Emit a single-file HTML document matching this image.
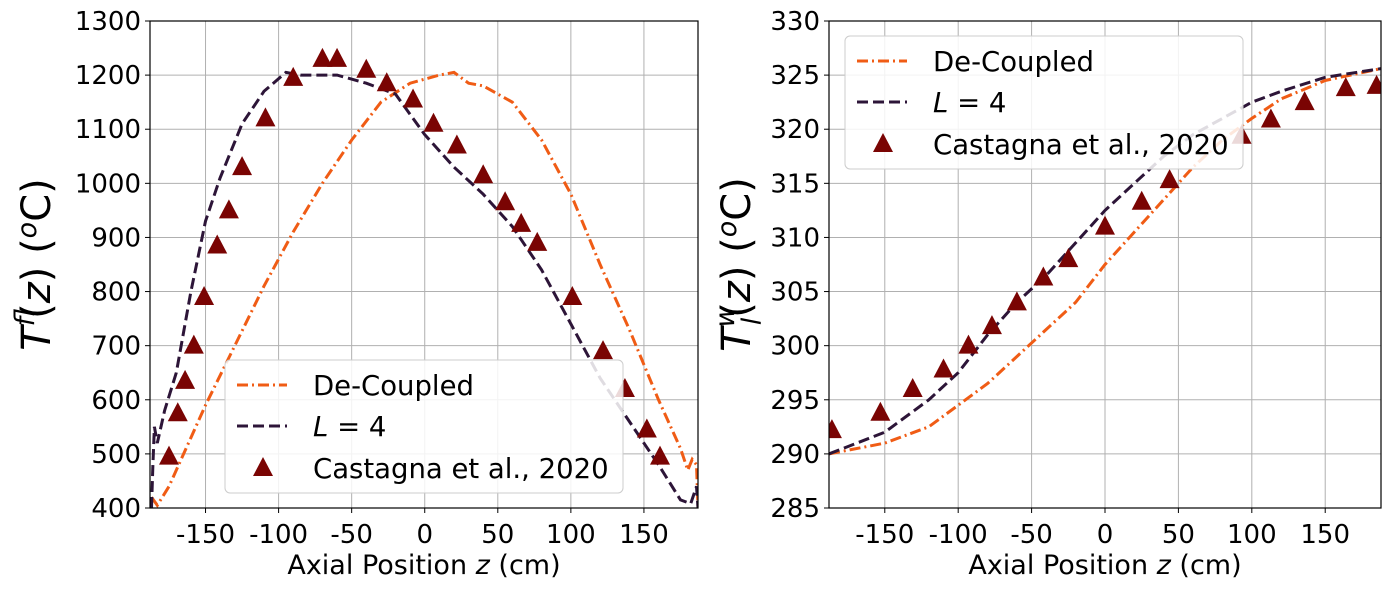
<!DOCTYPE html>
<html><head><meta charset="utf-8"><style>
body{margin:0;background:#fff}
svg{font-family:"DejaVu Sans","Liberation Sans",sans-serif}
</style></head><body>
<svg id="fig" width="1389" height="590" xmlns="http://www.w3.org/2000/svg"></svg>
<script>
// ---- Left panel data ----
const leftTriZ=[-175,-169,-164,-158,-151,-142,-134,-125,-109,-90,-70,-60,-40,-26,-8,6,22,40,55,66,77,101,122,137,152,161];
const leftTriT=[495,575,635,700,790,885,950,1030,1120,1195,1230,1230,1210,1185,1155,1110,1070,1015,965,925,890,790,690,620,545,495];
const leftLZ=[-187,-186,-185,-183,-178,-170,-160,-150,-140,-125,-110,-95,-85,-60,-40,-20,0,20,40,60,80,100,120,140,160,175,182,186,187];
const leftLT=[400,480,550,520,580,650,800,930,1010,1110,1170,1205,1200,1200,1185,1165,1090,1030,980,920,840,740,640,560,480,415,408,440,400];
const leftDZ=[-187,-183,-175,-160,-150,-130,-110,-90,-70,-50,-30,-10,10,20,30,40,60,80,100,120,140,160,175,180,183,186,187];
const leftDT=[420,405,440,530,590,700,810,910,1000,1080,1150,1185,1200,1205,1185,1180,1150,1080,980,850,730,600,510,470,490,480,400];
// ---- Right panel data ----
const rightTriZ=[-186,-153,-131,-110,-93,-77,-60,-42,-25,0,25,44,93,113,136,164,185];
const rightTriT=[292.2,293.8,296,297.8,300,301.8,304,306.3,308,311,313.3,315.3,319.4,320.9,322.5,323.8,324];
const rightLZ=[-188,-150,-120,-100,-80,-60,-40,-20,0,20,40,60,80,100,120,150,188];
const rightLT=[290,292,295,297.5,301,304,306.5,309.5,312.5,315,317.5,319.5,321,322.5,323.5,324.8,325.6];
const rightDZ=[-188,-150,-120,-100,-80,-60,-40,-20,0,20,40,60,80,100,120,150,188];
const rightDT=[290,291,292.5,294.5,296.5,299,301.5,304,307.5,310.5,313.5,316.5,319,321,322.8,324.5,325.6];
const xTicks=[-150,-100,-50,0,50,100,150];
const leftYTicks=[400,500,600,700,800,900,1000,1100,1200,1300];
const rightYTicks=[285,290,295,300,305,310,315,320,325,330];

const NS="http://www.w3.org/2000/svg";
const svg=document.getElementById('fig');
function mk(tag,attrs,parent){const e=document.createElementNS(NS,tag);for(const k in attrs)e.setAttribute(k,attrs[k]);(parent||svg).appendChild(e);return e;}
const ORANGE="#f05c15",DARK="#2d1538",RED="#7a0403";

function panel(p){
  const g=mk('g',{});
  
  
  const sx=z=>p.x0+(z-p.zmin)/(p.zmax-p.zmin)*(p.x1-p.x0);
  const sy=v=>p.y1-(v-p.ymin)/(p.ymax-p.ymin)*(p.y1-p.y0);
  const clip=mk('clipPath',{id:p.name+'-clip'},g);
  mk('rect',{x:p.x0,y:p.y0,width:p.x1-p.x0,height:p.y1-p.y0},clip);
  xTicks.forEach(t=>{
    const l=mk('line',{x1:sx(t),x2:sx(t),y1:p.y0,y2:p.y1,stroke:'#b0b0b0','stroke-width':1},g);
    
    
    mk('line',{x1:sx(t),x2:sx(t),y1:p.y1,y2:p.y1+5,stroke:'#000','stroke-width':1},g);
    const tx=mk('text',{x:sx(t),y:p.y1+35,'font-size':26,'text-anchor':'middle'},g);
    tx.textContent=t;
    
    
  });
  p.yTicks.forEach(t=>{
    const l=mk('line',{x1:p.x0,x2:p.x1,y1:sy(t),y2:sy(t),stroke:'#b0b0b0','stroke-width':1},g);
    
    
    mk('line',{x1:p.x0-5,x2:p.x0,y1:sy(t),y2:sy(t),stroke:'#000','stroke-width':1},g);
    const tx=mk('text',{x:p.x0-9,y:sy(t)+9,'font-size':26,'text-anchor':'end'},g);
    tx.textContent=t;
    
    
  });
  const pts=(Z,T)=>Z.map((z,i)=>sx(z).toFixed(1)+','+sy(T[i]).toFixed(1)).join(' ');
  const d=mk('polyline',{points:pts(p.dz,p.dt),fill:'none',stroke:ORANGE,'stroke-width':3,'stroke-dasharray':'11,4,2,4','clip-path':'url(#'+p.name+'-clip)'},g);
  
  
  const l4=mk('polyline',{points:pts(p.lz,p.lt),fill:'none',stroke:DARK,'stroke-width':3,'stroke-dasharray':'11,5','clip-path':'url(#'+p.name+'-clip)'},g);
  
  
  p.tz.forEach((z,i)=>{
    const cx=sx(z),cy=sy(p.tt[i]);
    const tr=mk('polygon',{points:`${cx},${cy-11} ${cx-10},${cy+8} ${cx+10},${cy+8}`,fill:RED,'clip-path':'url(#'+p.name+'-clip)'},g);
    
    
  });
  mk('rect',{x:p.x0,y:p.y0,width:p.x1-p.x0,height:p.y1-p.y0,fill:'none',stroke:'#000','stroke-width':1.2},g);
  // legend
  const L=p.leg;
  const lg=mk('g',{},g);
  
  
  mk('rect',{x:L.x,y:L.y,width:398,height:133,rx:5,fill:'#fff','fill-opacity':0.85,stroke:'#ccc'},lg);
  mk('line',{x1:L.x+12,x2:L.x+62,y1:L.y+25,y2:L.y+25,stroke:ORANGE,'stroke-width':3,'stroke-dasharray':'11,4,2,4'},lg);
  mk('line',{x1:L.x+12,x2:L.x+62,y1:L.y+66,y2:L.y+66,stroke:DARK,'stroke-width':3,'stroke-dasharray':'11,5'},lg);
  const cx=L.x+38,cy=L.y+108;
  mk('polygon',{points:`${cx},${cy-11} ${cx-10},${cy+8} ${cx+10},${cy+8}`,fill:RED},lg);
  const t1=mk('text',{x:L.x+88,y:L.y+35,'font-size':27.5},lg);t1.textContent='De-Coupled';
  
  const t2=mk('text',{x:L.x+88,y:L.y+76,'font-size':27.5},lg);t2.innerHTML='<tspan font-style="italic">L</tspan> = 4';
  
  const t3=mk('text',{x:L.x+88,y:L.y+118,'font-size':27.5},lg);t3.textContent='Castagna et al., 2020';
  
  const xl=mk('text',{x:(p.x0+p.x1)/2,y:574,'font-size':27,'text-anchor':'middle'},g);
  xl.innerHTML='Axial Position <tspan font-style="italic">z</tspan> (cm)';
  
  const yl=mk('text',{x:0,y:0,'font-size':40,'text-anchor':'middle',transform:`translate(${p.ylx},${(p.y0+p.y1)/2}) rotate(-90)`},g);
  yl.innerHTML=`<tspan font-style="italic">T</tspan><tspan font-style="italic" font-size="27" dy="-16">${p.sup}</tspan><tspan font-style="italic" font-size="27" dx="${p.subdx}" dy="27">l</tspan><tspan dy="-11">(</tspan><tspan font-style="italic">z</tspan>) (<tspan font-style="italic" font-size="27" dy="-14">o</tspan><tspan dy="14">C)</tspan>`;
  
}
panel({name:'fuel-temperature-panel',x0:150,x1:698,y0:21,y1:508,zmin:-188,zmax:187,ymin:400,ymax:1300,yTicks:leftYTicks,
  dz:leftDZ,dt:leftDT,lz:leftLZ,lt:leftLT,tz:leftTriZ,tt:leftTriT,leg:{x:225,y:360},ylx:50,sup:'f',subdx:-10});
panel({name:'water-temperature-panel',x0:829,x1:1381,y0:21,y1:508,zmin:-188,zmax:188,ymin:285,ymax:330,yTicks:rightYTicks,
  dz:rightDZ,dt:rightDT,lz:rightLZ,lt:rightLT,tz:rightTriZ,tt:rightTriT,leg:{x:845,y:36},ylx:750,sup:'w',subdx:-20});
</script>
</body></html>
